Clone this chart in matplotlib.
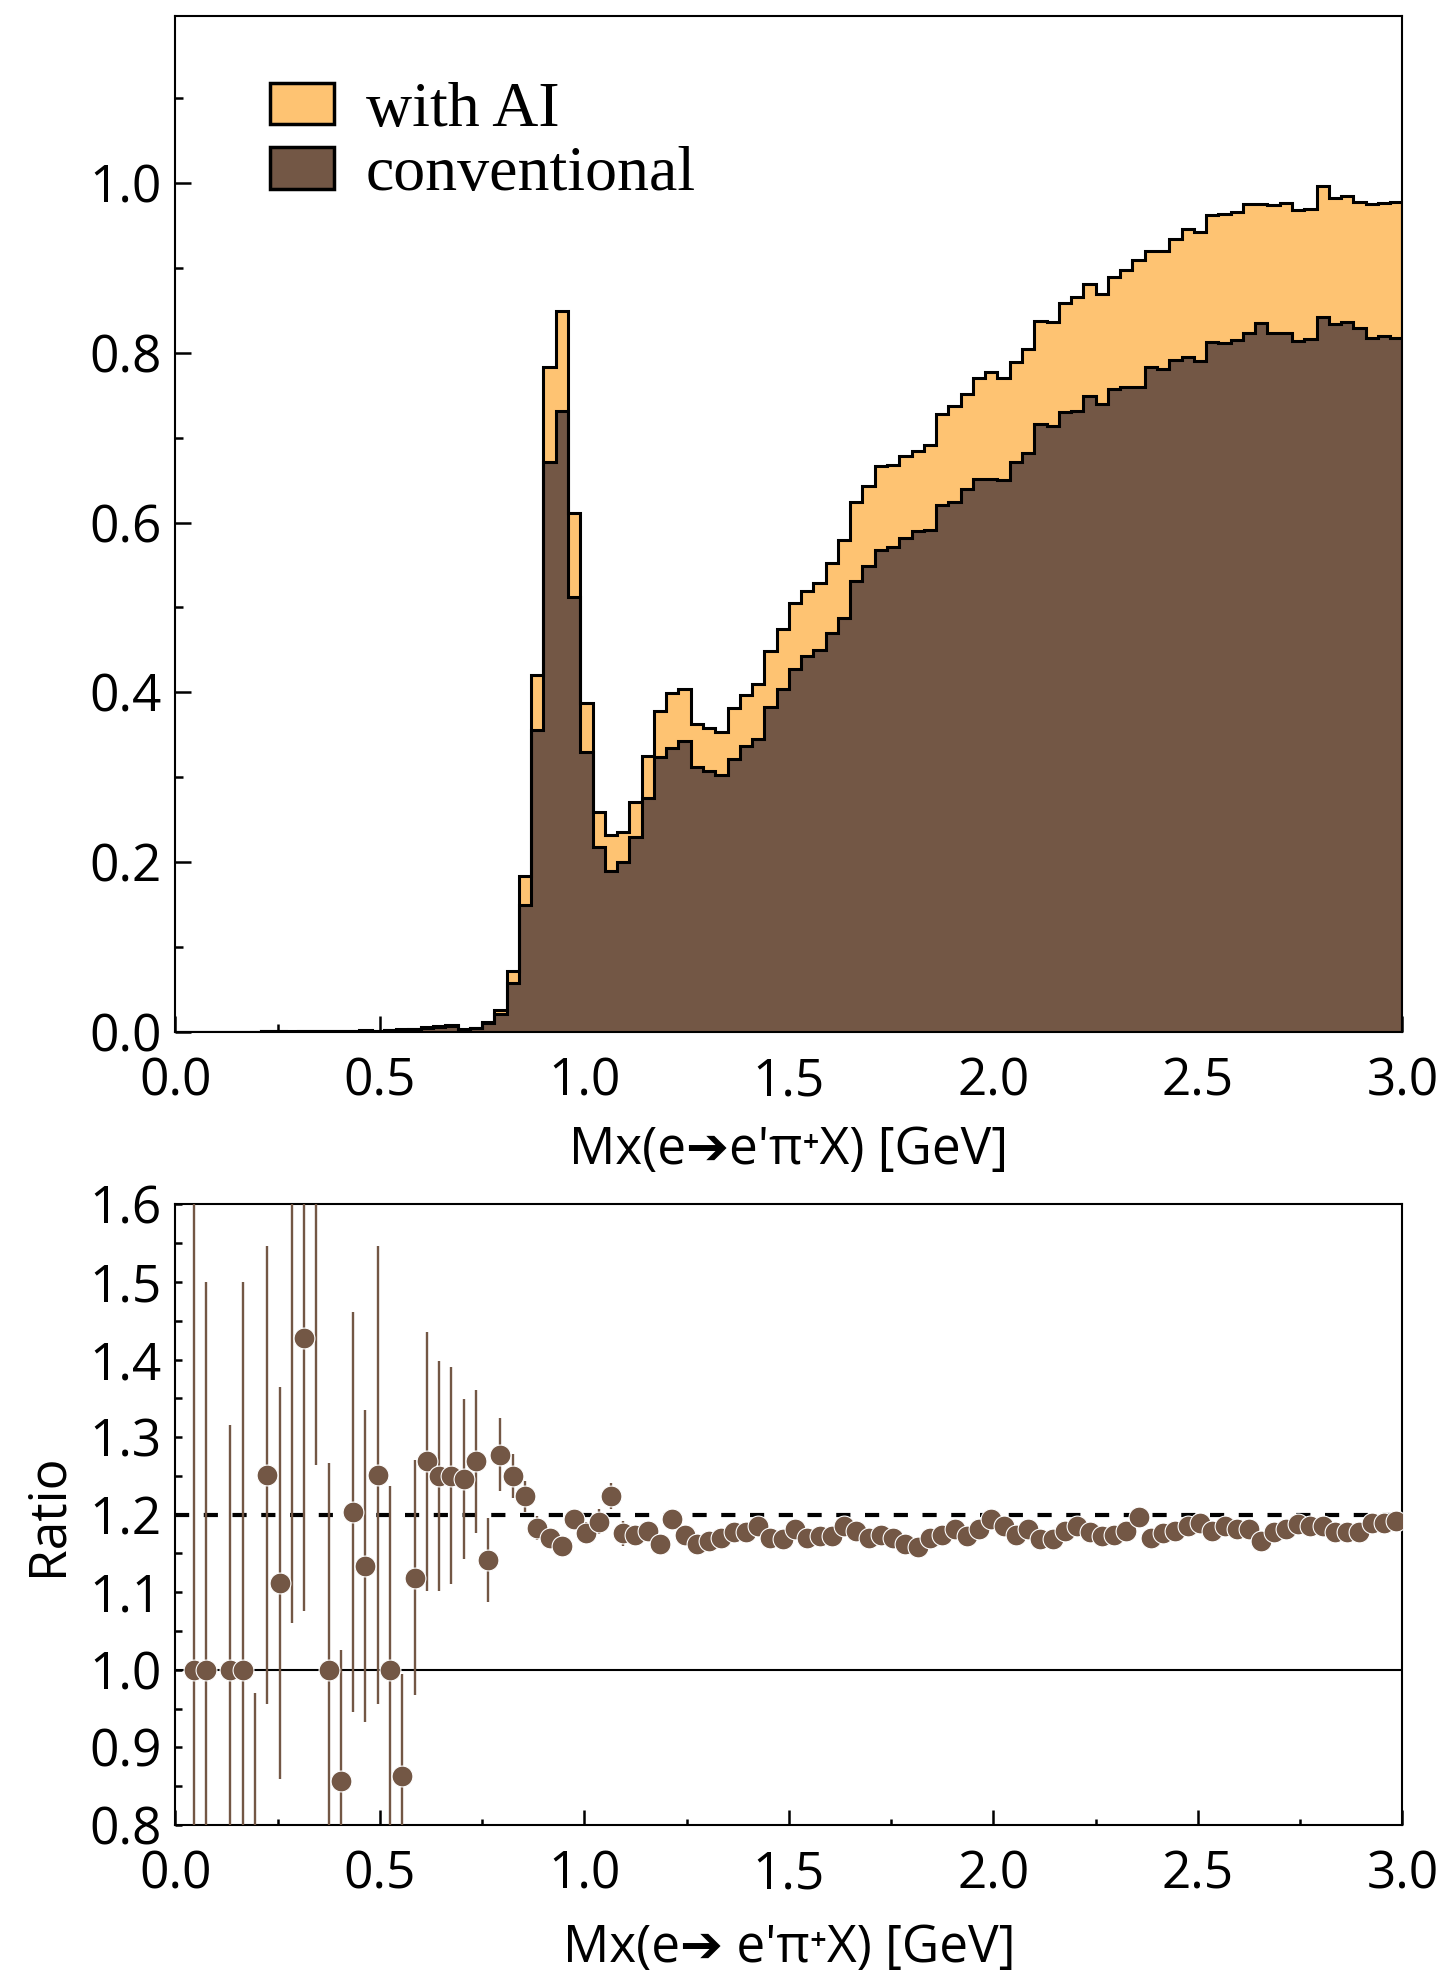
import numpy as np
import matplotlib
matplotlib.use("Agg")
import matplotlib.pyplot as plt
from matplotlib.patches import Patch
from matplotlib.ticker import MultipleLocator, FixedLocator

# ---------------- data ----------------
bin_edges = np.linspace(0.0, 3.0, 101)   # 100 bins, 0.03 GeV wide

ai_counts = [
    0.0, 0.0002, 0.0002, 0.0, 0.0003, 0.0002, 0.00015, 0.0005, 0.001, 0.00055,
    0.001, 0.00095, 0.0008, 0.0012, 0.0012, 0.0017, 0.0015, 0.0018, 0.0025, 0.0037,
    0.0052, 0.0065, 0.0079, 0.003, 0.005, 0.012, 0.026, 0.072, 0.184, 0.421,
    0.783, 0.849, 0.611, 0.387, 0.259, 0.232, 0.235, 0.271, 0.325, 0.378,
    0.399, 0.404, 0.363, 0.358, 0.353, 0.381, 0.397, 0.410, 0.449, 0.475,
    0.505, 0.520, 0.529, 0.553, 0.580, 0.624, 0.643, 0.667, 0.668, 0.678,
    0.684, 0.691, 0.728, 0.737, 0.752, 0.770, 0.778, 0.770, 0.789, 0.805,
    0.838, 0.836, 0.859, 0.866, 0.881, 0.869, 0.890, 0.898, 0.910, 0.920,
    0.920, 0.934, 0.946, 0.943, 0.962, 0.964, 0.966, 0.975, 0.976, 0.974,
    0.977, 0.968, 0.970, 0.997, 0.982, 0.985, 0.978, 0.976, 0.977, 0.978,
]

conv_counts = [
    0.0, 0.0002, 0.0002, 0.0, 0.0003, 0.0002, 0.0003, 0.0004, 0.0009, 0.0003,
    0.0007, 0.0005, 0.0008, 0.0014, 0.0010, 0.0015, 0.0012, 0.0018, 0.0029, 0.0033,
    0.0041, 0.0052, 0.0063, 0.0024, 0.0039, 0.0105, 0.0204, 0.057, 0.150, 0.356,
    0.671, 0.731, 0.512, 0.330, 0.218, 0.190, 0.200, 0.230, 0.275, 0.324,
    0.334, 0.343, 0.312, 0.307, 0.303, 0.322, 0.337, 0.345, 0.383, 0.404,
    0.428, 0.443, 0.450, 0.470, 0.488, 0.531, 0.549, 0.568, 0.571, 0.582,
    0.590, 0.591, 0.621, 0.624, 0.640, 0.651, 0.651, 0.650, 0.671, 0.682,
    0.716, 0.714, 0.730, 0.731, 0.749, 0.740, 0.758, 0.760, 0.760, 0.783,
    0.781, 0.792, 0.795, 0.791, 0.813, 0.812, 0.815, 0.824, 0.835, 0.824,
    0.824, 0.814, 0.816, 0.842, 0.834, 0.836, 0.829, 0.818, 0.820, 0.818,
]

nan = float("nan")
ratio_vals = [
    nan, 1.0, 1.0, nan, 1.0, 1.0, 0.50, 1.251, 1.112, 1.85,
    1.428, 1.90, 1.0, 0.857, 1.203, 1.134, 1.251, 1.0, 0.863, 1.119,
    1.269, 1.250, 1.250, 1.246, 1.269, 1.142, 1.277, 1.250, 1.224, 1.183,
    1.170, 1.160, 1.194, 1.176, 1.191, 1.224, 1.176, 1.174, 1.179, 1.162,
    1.195, 1.174, 1.162, 1.166, 1.170, 1.178, 1.178, 1.185, 1.170, 1.169,
    1.182, 1.170, 1.173, 1.173, 1.185, 1.179, 1.170, 1.174, 1.170, 1.162,
    1.158, 1.170, 1.174, 1.181, 1.173, 1.182, 1.194, 1.185, 1.174, 1.181,
    1.169, 1.169, 1.179, 1.185, 1.178, 1.173, 1.174, 1.179, 1.197, 1.170,
    1.176, 1.179, 1.185, 1.189, 1.179, 1.185, 1.182, 1.181, 1.166, 1.178,
    1.182, 1.188, 1.185, 1.185, 1.178, 1.178, 1.178, 1.189, 1.189, 1.192,
]

ratio_errs = [
    nan, 0.70, 0.50, nan, 0.316, 0.50, 0.47, 0.295, 0.253, 0.79,
    0.352, 0.636, 0.267, 0.169, 0.258, 0.201, 0.295, 0.237, 0.132, 0.152,
    0.167, 0.148, 0.140, 0.103, 0.092, 0.054, 0.047, 0.028, 0.020, 0.015,
    0.010, 0.010, 0.012, 0.014, 0.016, 0.017, 0.016, 0.013, 0.012, 0.011,
    0.011, 0.010, 0.010, 0.010, 0.010, 0.009, 0.009, 0.009, 0.009, 0.008,
    0.008, 0.008, 0.008, 0.008, 0.008, 0.007, 0.007, 0.007, 0.007, 0.007,
    0.007, 0.007, 0.007, 0.007, 0.006, 0.006, 0.006, 0.006, 0.006, 0.006,
    0.006, 0.006, 0.006, 0.006, 0.006, 0.006, 0.006, 0.006, 0.006, 0.006,
    0.006, 0.006, 0.006, 0.006, 0.006, 0.006, 0.006, 0.006, 0.006, 0.006,
    0.006, 0.006, 0.006, 0.006, 0.006, 0.006, 0.006, 0.006, 0.006, 0.006,
]

legend_labels = ["with AI", "conventional"]
xlabel_top = "Mx(e\u2794e'\u03c0\u207aX) [GeV]"
xlabel_bottom = "Mx(e\u2794 e'\u03c0\u207aX) [GeV]"
ylabel_bottom = "Ratio"

# ---------------- style ----------------
ORANGE = "#FEC372"
BROWN = "#735745"
sans = ["Open Sans", "DejaVu Sans"]
plt.rcParams["font.family"] = sans
plt.rcParams["axes.linewidth"] = 1.5
FS = 37

fig = plt.figure(figsize=(14.39, 19.77), dpi=100)
ax1 = fig.add_axes([0.1218, 0.4781, 0.8528, 0.5138])
ax2 = fig.add_axes([0.1218, 0.0769, 0.8528, 0.3139])

# ---------------- top: histograms ----------------
ax1.stairs(ai_counts, bin_edges, fill=True, color=ORANGE, zorder=1)
ax1.stairs(conv_counts, bin_edges, fill=True, color=BROWN, zorder=2)
ax1.stairs(ai_counts, bin_edges, color="black", lw=2.2, zorder=3)
ax1.stairs(conv_counts, bin_edges, color="black", lw=2.2, zorder=3)

ax1.set_xlim(0, 3.0)
ax1.set_ylim(0, 1.197)
ax1.yaxis.set_major_locator(FixedLocator([0.0, 0.2, 0.4, 0.6, 0.8, 1.0]))
ax1.yaxis.set_minor_locator(MultipleLocator(0.1))
ax1.xaxis.set_major_locator(MultipleLocator(0.5))
ax1.xaxis.set_minor_locator(MultipleLocator(0.25))
ax1.yaxis.set_major_formatter(matplotlib.ticker.FormatStrFormatter("%.1f"))
ax1.xaxis.set_major_formatter(matplotlib.ticker.FormatStrFormatter("%.1f"))
ax1.tick_params(which="both", direction="in", top=False, right=False,
                labelsize=FS, width=1.8)
ax1.tick_params(which="major", length=11.5)
ax1.tick_params(axis="y", which="major", pad=10)
ax1.tick_params(axis="x", which="major", pad=18)
ax1.tick_params(which="minor", length=5.5)
ax1.set_xlabel(xlabel_top, fontsize=FS, family=sans)
ax1.xaxis.set_label_coords(0.5, -0.1165)
ax1.xaxis.label.set_va("center")

handles = [Patch(facecolor=ORANGE, edgecolor="black", lw=2.5),
           Patch(facecolor=BROWN, edgecolor="black", lw=2.5)]
ax1.legend(handles, legend_labels, loc="upper left",
           bbox_to_anchor=(0.077, 0.935), frameon=False,
           prop={"family": ["Liberation Serif", "DejaVu Serif"], "size": 46},
           handlelength=1.0, handleheight=0.62, labelspacing=0.1,
           handletextpad=0.5, borderpad=0.0, borderaxespad=0.0)

# ---------------- bottom: ratio ----------------
centers = 0.5 * (bin_edges[:-1] + bin_edges[1:])
ax2.axhline(1.0, color="black", lw=1.5, zorder=1)
ax2.axhline(1.2, color="black", lw=3.0, ls=(0, (3.4, 3.5)), zorder=1)
ax2.errorbar(centers, ratio_vals, yerr=ratio_errs, fmt="o", ms=15,
             mfc=BROWN, mec="white", mew=0.8, ecolor=BROWN,
             elinewidth=1.7, capsize=0, zorder=3)

ax2.set_xlim(0, 3.0)
ax2.set_ylim(0.8, 1.6)
ax2.yaxis.set_major_locator(MultipleLocator(0.1))
ax2.yaxis.set_minor_locator(MultipleLocator(0.05))
ax2.xaxis.set_major_locator(MultipleLocator(0.5))
ax2.xaxis.set_minor_locator(MultipleLocator(0.25))
ax2.yaxis.set_major_formatter(matplotlib.ticker.FormatStrFormatter("%.1f"))
ax2.xaxis.set_major_formatter(matplotlib.ticker.FormatStrFormatter("%.1f"))
ax2.tick_params(which="both", direction="in", top=False, right=False,
                labelsize=FS, width=1.8)
ax2.tick_params(axis="x", which="major", length=10.5, pad=18)
ax2.tick_params(axis="x", which="minor", length=4)
ax2.tick_params(axis="y", which="both", length=5, pad=10)
ax2.set_xlabel(xlabel_bottom, fontsize=FS, family=sans)
ax2.xaxis.set_label_coords(0.5, -0.199)
ax2.xaxis.label.set_va("center")
ax2.set_ylabel(ylabel_bottom, fontsize=FS, family=sans)
ax2.yaxis.set_label_coords(-0.1037, 0.5)
ax2.yaxis.label.set_va("center")

fig.savefig("out.png", dpi=100)
